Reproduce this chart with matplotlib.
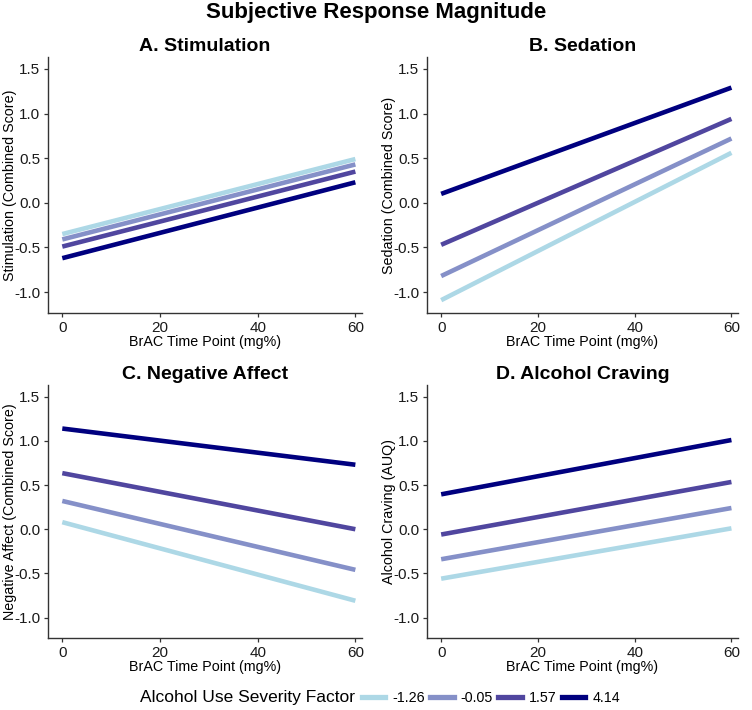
import matplotlib
matplotlib.use("Agg")
import matplotlib.pyplot as plt
from matplotlib.lines import Line2D

plt.rcParams['font.family'] = ['Liberation Sans', 'DejaVu Sans']

# BrAC time points (start and end of each fitted line)
brac = [0, 60]

severity_levels = ["-1.26", "-0.05", "1.57", "4.14"]
line_colors = ["#ADD8E6", "#8590C8", "#50469F", "#00007F"]

# fitted values at BrAC 0 and 60, one pair per severity level
stimulation = [[-0.35, 0.49], [-0.41, 0.43], [-0.49, 0.35], [-0.62, 0.23]]
sedation = [[-1.09, 0.56], [-0.82, 0.72], [-0.47, 0.94], [0.10, 1.29]]
negative_affect = [[0.08, -0.81], [0.32, -0.46], [0.635, 0.0], [1.14, 0.73]]
craving = [[-0.56, 0.01], [-0.34, 0.24], [-0.06, 0.535], [0.395, 1.01]]

panel_titles = ["A. Stimulation", "B. Sedation", "C. Negative Affect", "D. Alcohol Craving"]
y_labels = ["Stimulation (Combined Score)", "Sedation (Combined Score)",
            "Negative Affect (Combined Score)", "Alcohol Craving (AUQ)"]
panel_data = [stimulation, sedation, negative_affect, craving]

fig = plt.figure(figsize=(7.52, 7.10), dpi=100)

# axes boxes [left, bottom, width, height] in figure fraction
boxes = [
    [0.064, 0.559, 0.417, 0.361],
    [0.568, 0.559, 0.413, 0.361],
    [0.064, 0.101, 0.417, 0.357],
    [0.568, 0.101, 0.413, 0.357],
]

axis_color = "#333333"

for box, title, ylab, data in zip(boxes, panel_titles, y_labels, panel_data):
    ax = fig.add_axes(box)
    for vals, col in zip(data, line_colors):
        ax.plot(brac, vals, color=col, lw=3.3, solid_capstyle="butt")
    ax.set_xlim(-2.9, 61.3)
    ax.set_ylim(-1.235, 1.635)
    ax.set_xticks([0, 20, 40, 60])
    ax.set_yticks([-1.0, -0.5, 0.0, 0.5, 1.0, 1.5])
    ax.set_yticklabels(["-1.0", "-0.5", "0.0", "0.5", "1.0", "1.5"])
    ax.spines["top"].set_visible(False)
    ax.spines["right"].set_visible(False)
    for s in ["left", "bottom"]:
        ax.spines[s].set_color(axis_color)
        ax.spines[s].set_linewidth(1.0)
    ax.tick_params(colors=axis_color, labelcolor="#1a1a1a", labelsize=11,
                   length=3, width=0.9, pad=2.5)
    ax.set_title(title, fontsize=14, fontweight="bold", pad=4)
    ax.set_xlabel("BrAC Time Point (mg%)", fontsize=10.3, labelpad=0)
    ax.set_ylabel(ylab, fontsize=10.3, va="center")
    ax.yaxis.set_label_coords(-38.5 / (box[2] * 752), 0.5)

fig.text(0.5, 0.982, "Subjective Response Magnitude", ha="center", va="center",
         fontsize=16, fontweight="bold")

# legend along the bottom
fig.text(0.186, 0.017, "Alcohol Use Severity Factor", ha="left", va="center",
         fontsize=12.5)
handles = [Line2D([0], [0], color=c, lw=3.8) for c in line_colors]
fig.legend(handles, severity_levels, loc="center left", bbox_to_anchor=(0.481, 0.017),
           ncol=4, frameon=False, fontsize=10.3, handlelength=1.65, handletextpad=0.5,
           columnspacing=0.35, borderaxespad=0, borderpad=0)

fig.savefig("out.png", dpi=100)
